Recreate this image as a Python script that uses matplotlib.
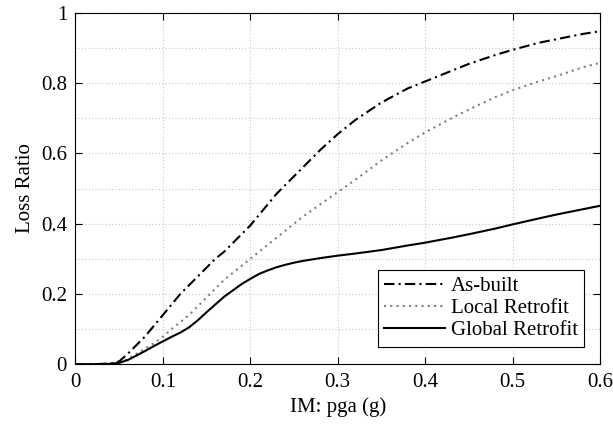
import numpy as np
import matplotlib
matplotlib.use("Agg")
import matplotlib.pyplot as plt
from matplotlib.ticker import MultipleLocator

plt.rcParams['font.family'] = ['Liberation Serif', 'DejaVu Serif']

# pga (g) sample points
pga = [0.0, 0.02, 0.04, 0.05, 0.06, 0.07, 0.08, 0.09, 0.10, 0.11, 0.12, 0.13,
       0.14, 0.15, 0.16, 0.17, 0.18, 0.19, 0.20, 0.21, 0.22, 0.23, 0.24, 0.25,
       0.26, 0.28, 0.30, 0.32, 0.35, 0.38, 0.40, 0.43, 0.45, 0.48, 0.50,
       0.53, 0.55, 0.58, 0.60]

as_built = [0.0, 0.0, 0.002, 0.008, 0.03, 0.055, 0.08, 0.11, 0.14, 0.17, 0.20,
            0.225, 0.25, 0.275, 0.30, 0.32, 0.345, 0.37, 0.395, 0.425, 0.455,
            0.485, 0.51, 0.535, 0.56, 0.61, 0.655, 0.695, 0.745, 0.785, 0.805,
            0.835, 0.855, 0.88, 0.895, 0.915, 0.925, 0.94, 0.948]

local_retrofit = [0.0, 0.0, 0.001, 0.004, 0.015, 0.03, 0.045, 0.06, 0.078, 0.10,
                  0.12, 0.14, 0.165, 0.19, 0.215, 0.24, 0.26, 0.28, 0.30, 0.32,
                  0.34, 0.36, 0.38, 0.40, 0.42, 0.455, 0.49, 0.525, 0.58, 0.63,
                  0.66, 0.70, 0.725, 0.76, 0.78, 0.805, 0.82, 0.845, 0.858]

global_retrofit = [0.0, 0.0, 0.001, 0.004, 0.012, 0.025, 0.038, 0.052, 0.065,
                   0.078, 0.09, 0.105, 0.125, 0.148, 0.17, 0.192, 0.21, 0.228,
                   0.243, 0.257, 0.267, 0.276, 0.283, 0.289, 0.294, 0.302,
                   0.309, 0.315, 0.325, 0.338, 0.346, 0.36, 0.37, 0.386,
                   0.398, 0.415, 0.426, 0.441, 0.451]

fig = plt.figure(figsize=(6.13, 4.3), dpi=100)
ax = fig.add_axes([0.123, 0.153, 0.856, 0.817])

ax.plot(pga, as_built, color='black', lw=1.5, linestyle=(0, (5, 2, 1, 2)),
        label='As-built')
ax.plot(pga, local_retrofit, color='#808080', lw=1.5, linestyle=(0, (1, 2)),
        label='Local Retrofit')
ax.plot(pga, global_retrofit, color='black', lw=1.5, label='Global Retrofit')

ax.set_xlim(0, 0.6)
ax.set_ylim(0, 1)
ax.set_xticks([0, 0.1, 0.2, 0.3, 0.4, 0.5, 0.6])
ax.set_xticklabels(['0', '0.1', '0.2', '0.3', '0.4', '0.5', '0.6'])
ax.set_yticks([0, 0.2, 0.4, 0.6, 0.8, 1])
ax.set_yticklabels(['0', '0.2', '0.4', '0.6', '0.8', '1'])
ax.yaxis.set_minor_locator(MultipleLocator(0.1))
ax.tick_params(which='both', direction='in', top=True, right=True,
               labelsize=15, length=5, width=0.8, pad=6)
ax.tick_params(which='minor', length=0)
ax.grid(True, which='both', color='#c8c8c8', linestyle=(0, (1, 2)), lw=0.8)
for s in ax.spines.values():
    s.set_linewidth(0.8)

ax.set_xlabel('IM: pga (g)', fontsize=15)
ax.set_ylabel('Loss Ratio', fontsize=15)

leg = ax.legend(loc='lower right', bbox_to_anchor=(0.97, 0.05), fontsize=15,
                fancybox=False, framealpha=1, edgecolor='black',
                handlelength=2.9, handletextpad=0.3, borderpad=0.3,
                labelspacing=0.12, borderaxespad=0)
leg.get_frame().set_linewidth(0.8)

fig.savefig('out.png', dpi=100)
